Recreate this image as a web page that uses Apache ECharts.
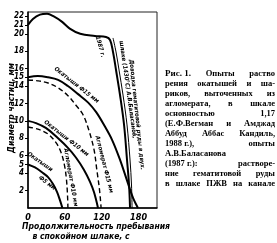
<!DOCTYPE html>
<html><head><meta charset="utf-8">
<script src="https://cdn.jsdelivr.net/npm/echarts@6/dist/echarts.min.js"></script>
<style>html,body{margin:0;padding:0;background:#fff}#c{width:277px;height:243px}</style>
</head><body><div id="c"></div>
<script>
// ---- data ----
const xTickLabels = [0, 60, 120, 180];
const yTickLabels = [2, 4, 5, 6, 8, 10, 12, 14, 15, 16, 18, 20, 21, 22];

const hematiteX = [0, 8, 19.5, 31, 42, 55, 68, 85, 109, 127, 133.6, 138.4, 143.3, 149.8, 156.4, 161.2, 164.5, 166.1];
const hematiteY = [21.0, 21.7, 22.2, 22.3, 22.0, 21.4, 20.6, 20.0, 19.75, 19.63, 19.29, 17.91, 15.84, 12.97, 9.53, 5.51, 2.64, 0];
const hematite2X = [138.4, 143.3, 148.2, 154.7, 161.2, 166.1, 168.5, 169.4];
const hematite2Y = [19.52, 17.91, 15.84, 12.97, 9.53, 5.51, 2.64, 0];
const pellet15X = [0, 16, 32.6, 49, 65, 81, 98, 111, 124, 137, 150, 161, 171, 179];
const pellet15Y = [15.0, 15.15, 15.0, 14.7, 14.0, 13.1, 12.1, 11.0, 9.5, 7.8, 5.5, 3.2, 1.15, 0];
const sinter15X = [0, 16, 32.6, 49, 65, 78, 89.6, 99, 107.5, 112, 116.4, 119];
const sinter15Y = [14.7, 14.6, 14.35, 13.8, 12.9, 11.8, 10.7, 8.95, 6.7, 4.4, 2.1, 0];
const pellet10X = [0, 13, 29, 49, 65, 78, 91, 101, 107.5, 114];
const pellet10Y = [10, 9.75, 9.2, 8.0, 6.9, 5.8, 4.4, 3.0, 1.8, 0];
const sinter10X = [0, 16, 32.6, 45.6, 53.7, 59.4, 62.7, 64.3, 65];
const sinter10Y = [9.3, 9.05, 8.5, 7.5, 6.4, 4.9, 3.2, 1.5, 0];
const pellet5X = [0, 11.4, 22.8, 32.6, 40.7, 47.2, 52, 56];
const pellet5Y = [5, 4.65, 4.1, 3.55, 2.75, 1.85, 0.9, 0];

const curveLabels = ['Окатыши Ф15 мм', 'Окатыши Ф10 мм', 'Агломерат Ф15 мм', 'Агломерат Ф10 мм',
  'Окатыши', 'Ф5 мм', '1987 г.', 'шлаке (1430°С) А.В.Баласанов,', 'Доводка гематитовой руды в двух.'];
const yAxisTitle = 'Диаметр частиц, мм';
const xAxisTitle = ['Продолжительность пребывания', 'в спокойном шлаке, с'];
const captionLines = [
  ['Рис. 1.', 'Опыты', 'раство'],
  ['рения', 'окатышей', 'и', 'ша-'],
  ['риков,', 'выточенных', 'из'],
  ['агломерата,', 'в', 'шкале'],
  ['основностью', '1,17'],
  ['(Е.Ф.Вегман', 'и', 'Амджад'],
  ['Аббуд', 'Аббас', 'Кандиль,'],
  ['1988 г.),', 'опыты'],
  ['А.В.Баласанова'],
  ['(1987 г.):', 'растворе-'],
  ['ние', 'гематитовой', 'руды'],
  ['в', 'шлаке', 'ПЖВ', 'на', 'канале']
];

// ---- layout / style ----
const labelLayout = [
  {d: [79, 14.1], rot: -38}, {d: [62.5, 8.0], rot: -38}, {d: [124, 5.0], rot: -76}, {d: [69.5, 3.5], rot: -80},
  {d: [19.5, 5.3], rot: -35}, {d: [31, 2.87], rot: -38}, {d: [117.5, 18.5], rot: -75},
  {d: [162.5, 13.6], rot: -82}, {d: [177, 10.7], rot: -84}
];
const FONT = '"Liberation Sans Narrow","DejaVu Sans Condensed","Liberation Sans",sans-serif';
const pair = (xs, ys) => xs.map((x, i) => [x, ys[i]]);

const chart = echarts.init(document.getElementById('c'), null, {renderer: 'canvas'});
function line(data, w, dashed) {
  return {type: 'line', data, showSymbol: false, smooth: 0.35, silent: true,
    lineStyle: {color: '#000', width: w, type: dashed ? [5, 3] : 'solid'}};
}
chart.setOption({
  animation: false,
  grid: {left: 28, right: 120, top: 12, bottom: 35, show: true, borderColor: '#222', borderWidth: 1},
  xAxis: {type: 'value', min: 0, max: 210, interval: 60,
    axisLine: {lineStyle: {color: '#000', width: 1.5}}, axisTick: {show: false}, splitLine: {show: false},
    axisLabel: {margin: 5, color: '#000', fontSize: 9, fontWeight: 'bold', fontStyle: 'italic', fontFamily: FONT,
      formatter: v => xTickLabels.indexOf(v) >= 0 ? String(v) : ''}},
  yAxis: {type: 'value', min: 0, max: 22.5,
    axisLine: {show: true, lineStyle: {color: '#000', width: 1.5}}, splitLine: {show: false},
    axisTick: {show: true, length: 3, customValues: yTickLabels, lineStyle: {color: '#000'}},
    axisLabel: {margin: 4, customValues: yTickLabels, color: '#000', fontSize: 8, fontWeight: 'bold', fontStyle: 'italic', fontFamily: FONT}},
  series: [
    line(pair(hematiteX, hematiteY), 2, false),
    line(pair(hematite2X, hematite2Y), 1, false),
    line(pair(pellet15X, pellet15Y), 2, false),
    line(pair(sinter15X, sinter15Y), 1.4, true),
    line(pair(pellet10X, pellet10Y), 2, false),
    line(pair(sinter10X, sinter10Y), 1.4, true),
    line(pair(pellet5X, pellet5Y), 2, false)
  ]
});

const g = [];
curveLabels.forEach((t, i) => {
  const p = chart.convertToPixel({gridIndex: 0}, labelLayout[i].d);
  g.push({type: 'text', x: p[0], y: p[1], rotation: labelLayout[i].rot * Math.PI / 180, silent: true,
    style: {text: t, fill: '#000', font: 'italic bold 6px ' + FONT, align: 'center', verticalAlign: 'middle'}});
});
g.push({type: 'text', x: 12, y: 108, rotation: Math.PI / 2,
  style: {text: yAxisTitle, fill: '#000', font: 'italic bold 8.5px ' + FONT, align: 'center', verticalAlign: 'middle'}});
g.push({type: 'text', x: 96, y: 227,
  style: {text: xAxisTitle[0], fill: '#000', font: 'italic bold 8.5px ' + FONT, align: 'center', verticalAlign: 'middle'}});
g.push({type: 'text', x: 81, y: 237,
  style: {text: xAxisTitle[1], fill: '#000', font: 'italic bold 8.5px ' + FONT, align: 'center', verticalAlign: 'middle'}});

// justified caption
const CAP_FONT = 'bold 8.5px "Liberation Serif","DejaVu Serif",serif';
const CAP_BOLD = 'bold 9px "Liberation Serif","DejaVu Serif",serif';
const ctx = document.createElement('canvas').getContext('2d');
const capL = 165, capR = 275, capTop = 74, capLH = 10;
captionLines.forEach((words, li) => {
  const fonts = words.map((w, wi) => (li === 0 && wi === 0) ? CAP_BOLD : CAP_FONT);
  const widths = words.map((w, wi) => { ctx.font = fonts[wi]; return ctx.measureText(w).width; });
  const total = widths.reduce((a, b) => a + b, 0);
  const justify = words.length > 1;
  const gap = justify ? (capR - capL - total) / (words.length - 1) : 0;
  let x = capL;
  words.forEach((w, wi) => {
    g.push({type: 'text', x, y: capTop + li * capLH, silent: true,
      style: {text: w, fill: '#000', font: fonts[wi], align: 'left', verticalAlign: 'middle'}});
    x += widths[wi] + gap;
  });
});
chart.setOption({graphic: g});
</script></body></html>
